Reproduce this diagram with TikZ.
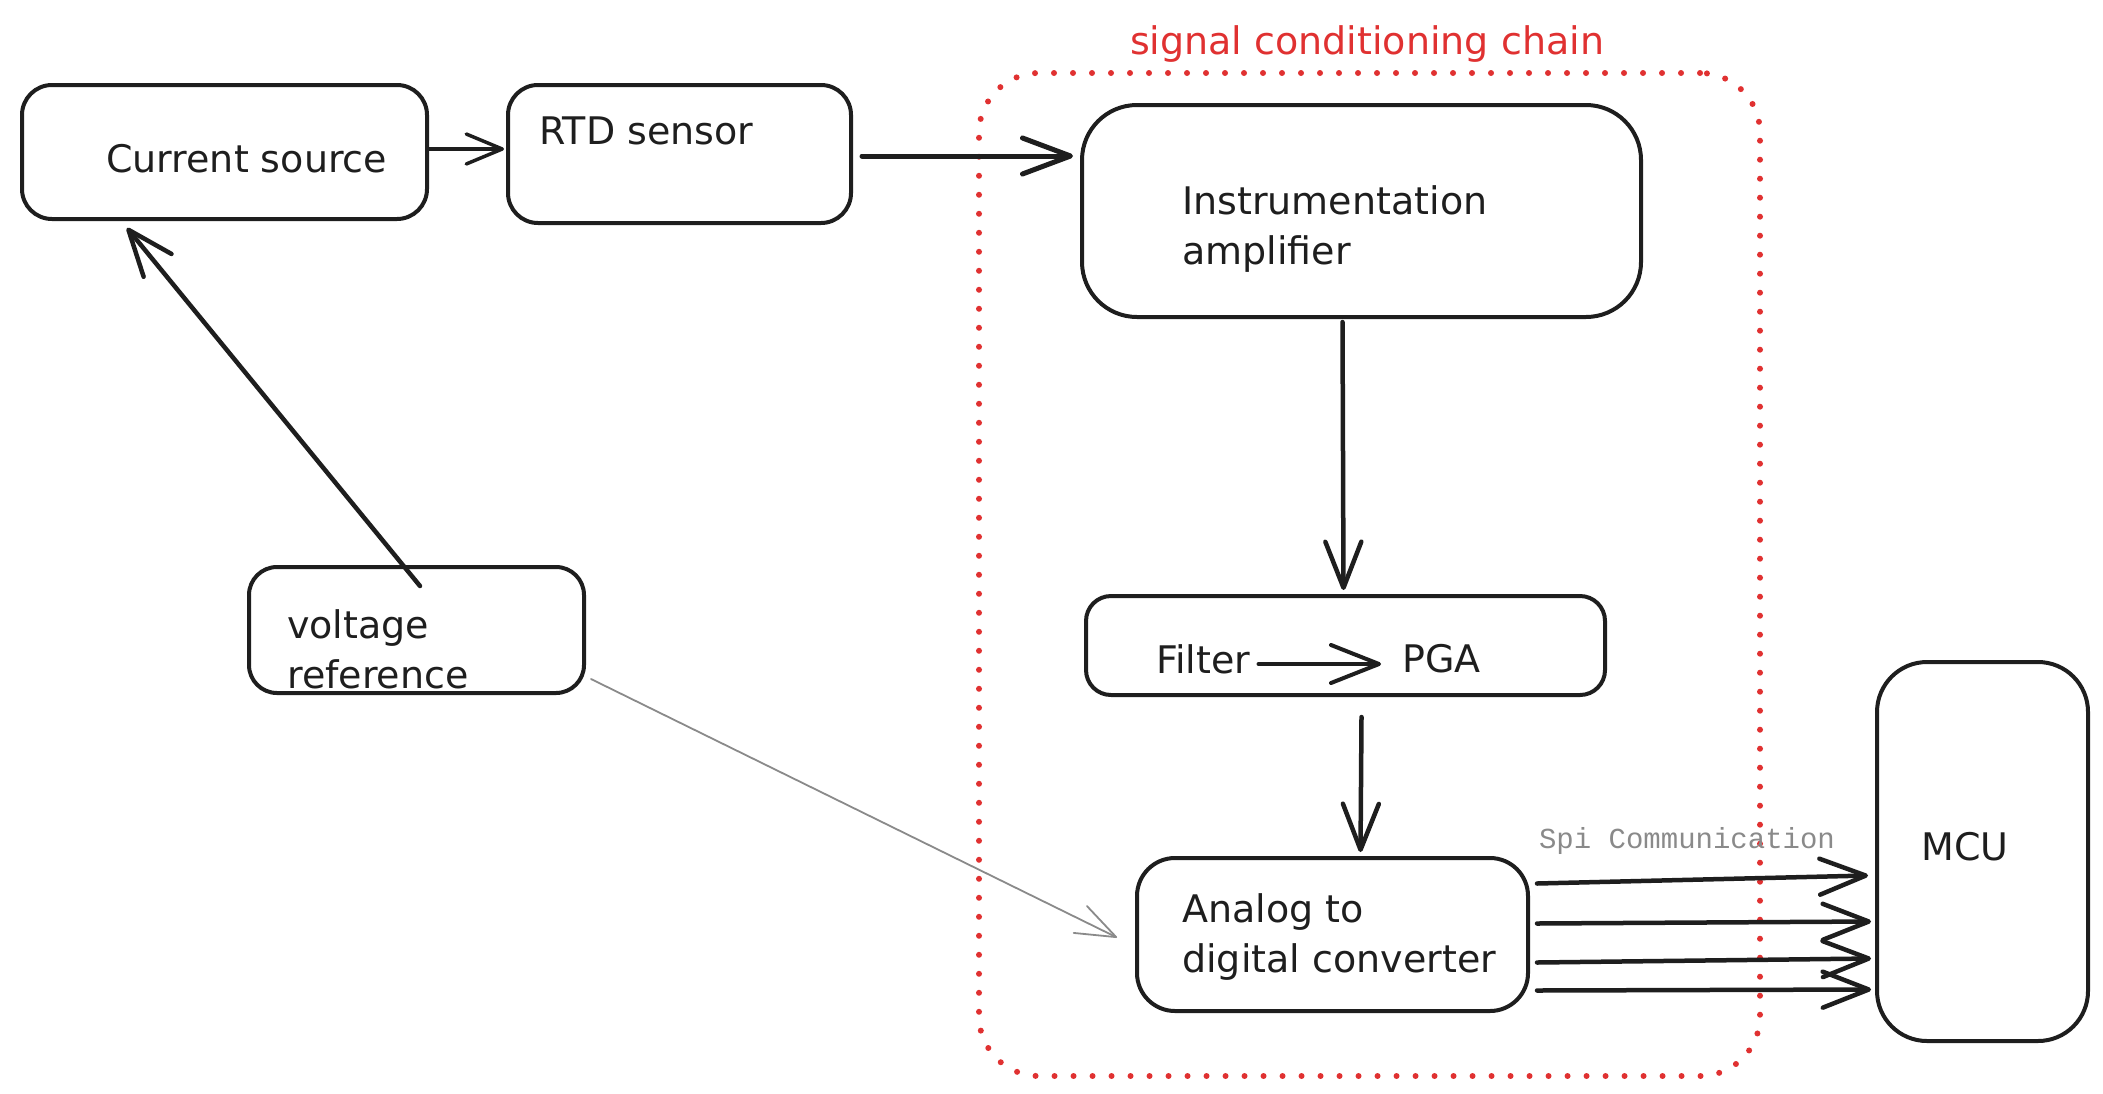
\documentclass[tikz,border=0pt]{standalone}
\usepackage{fontspec}
\setmainfont{DejaVu Sans}
\newfontfamily\codefont{Liberation Mono}
\usetikzlibrary{arrows.meta}
\definecolor{ink}{HTML}{1E1E1E}
\definecolor{redx}{HTML}{E03131}
\definecolor{grayx}{HTML}{8A8A8A}
\tikzset{
  box/.style={draw=ink, line width=4pt, rectangle, inner sep=0pt, anchor=north west},
  lbl/.style={anchor=west, inner sep=0pt, text=ink, font=\fontsize{38}{50}\selectfont, align=left},
  arr/.style={draw=ink, line width=4.5pt, line cap=round, -{Straight Barb[round,length=46pt,width=36pt,line width=4.5pt]}},
  thinarr/.style={draw=grayx, line width=1.8pt, line cap=round, -{Straight Barb[round,length=40pt,width=30pt,line width=1.8pt]}},
}
\begin{document}
\begin{tikzpicture}[x=1pt,y=-1pt]
\useasboundingbox (0,0) rectangle (2103,1093);
% signal conditioning group
\node[draw=redx, line width=6pt, dash pattern=on 0pt off 19pt, line cap=round, rounded corners=60pt,
      minimum width=781pt, minimum height=1003pt, inner sep=0pt, anchor=north west] (grp) at (976,70) {};
\node[text=redx, font=\fontsize{38}{48}\selectfont, inner sep=0pt] (grplbl) at (1367,44) {signal conditioning chain};
% boxes
\node[box, rounded corners=30pt, minimum width=405pt, minimum height=134pt] (cs) at (20,83) {};
\node[box, rounded corners=30pt, minimum width=343pt, minimum height=138pt] (rtd) at (506,83) {};
\node[box, rounded corners=55pt, minimum width=559pt, minimum height=212pt] (ia) at (1080,103) {};
\node[box, rounded corners=25pt, minimum width=519pt, minimum height=99pt] (fp) at (1084,594) {};
\node[box, rounded corners=38pt, minimum width=391pt, minimum height=153pt] (adc) at (1135,856) {};
\node[box, rounded corners=50pt, minimum width=211pt, minimum height=379pt] (mcu) at (1875,660) {};
\node[box, rounded corners=28pt, minimum width=335pt, minimum height=126pt] (vr) at (247,565) {};
% texts
\node[lbl] (cst) at (106,159) {Current source};
\node[lbl] (rtdt) at (539,131) {RTD sensor};
\node[lbl] (iat) at (1182,229) {Instrumentation\\amplifier};
\node[lbl] (vrt) at (287,649) {voltage\\reference};
\node[lbl] (adct) at (1182,937) {Analog to\\digital converter};
\node[lbl, anchor=center] (mcut) at (1965,847) {MCU};
\node[lbl] (filt) at (1156,659) {Filter};
\node[lbl] (pga) at (1402,659) {PGA};
\node[text=grayx, font=\codefont\fontsize{29}{34}\selectfont, inner sep=0pt] (spi) at (1687,841) {Spi Communication};
% connectors
\draw[arr, line width=3.5pt, -{Straight Barb[round,length=36pt,width=30pt,line width=3.5pt]}] ([yshift=3pt]cs.east) -- ([yshift=5pt,xshift=-2pt]rtd.west);
\draw[arr, line width=5pt, -{Straight Barb[round,length=48pt,width=36pt,line width=5pt]}] ([xshift=9pt,yshift=-2pt]rtd.east) -- ([xshift=-7pt,yshift=55pt]ia.west);
\draw[arr] ([xshift=173pt,yshift=-21pt]vr.north west) -- ([xshift=107pt,yshift=-7pt]cs.south west);
\draw[arr] ([xshift=-19pt,yshift=-3pt]ia.south) -- ([xshift=-2pt,yshift=4pt]fp.north);
\draw[arr] ([xshift=16pt,yshift=-20pt]fp.south) -- ([xshift=28pt,yshift=4pt]adc.north);
\draw[arr, line width=4pt, -{Straight Barb[round,length=48pt,width=38pt,line width=4pt]}] ([xshift=8pt,yshift=-5pt]filt.east) -- ([xshift=-21pt,yshift=-5pt]pga.west);
\draw[thinarr] ([xshift=5pt,yshift=16pt]vr.south east) -- ([xshift=-18pt,yshift=-3pt]adc.west);
\draw[arr] ([xshift=7pt,yshift=51pt]adc.east) -- ([xshift=-7pt,yshift=-24pt]mcu.west);
\draw[arr] ([xshift=7pt,yshift=11pt]adc.east) -- ([xshift=-4pt,yshift=-70pt]mcu.west);
\draw[arr] ([xshift=7pt,yshift=-28pt]adc.east) -- ([xshift=-4pt,yshift=-107pt]mcu.west);
\draw[arr] ([xshift=7pt,yshift=-56pt]adc.east) -- ([xshift=-4pt,yshift=-138pt]mcu.west);
\end{tikzpicture}
\end{document}
